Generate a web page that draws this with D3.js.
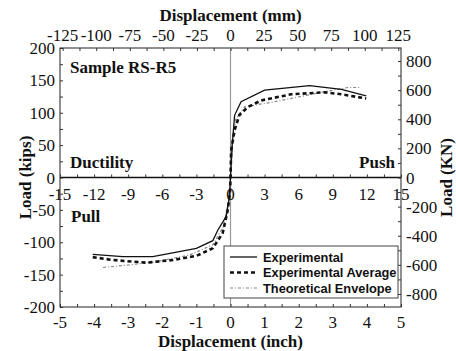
<!DOCTYPE html>
<html>
<head>
<meta charset="utf-8">
<script src="https://cdn.jsdelivr.net/npm/d3@7"></script>
<style>
  body { margin: 0; background: #fff; }
  svg { display: block; }
  .tick-lbl { font-family: "Liberation Serif", "Times New Roman", serif; font-size: 17px; fill: #111; }
  .title { font-family: "Liberation Serif", "Times New Roman", serif; font-size: 17px; font-weight: bold; fill: #111; }
  .legend-txt { font-family: "Liberation Sans", Arial, sans-serif; font-size: 12.8px; font-weight: bold; fill: #111; }
</style>
</head>
<body>
<div class="chart-div"></div>
<script>
const w = 456;
const h = 351;

// displacement (inch) / load (kips)
const expX  = [-4.04, -3.16, -2.28, -1.0, -0.52, -0.37, -0.13, -0.03, 0, 0.05, 0.12, 0.31, 1.0, 2.32, 3.25, 3.98];
const expY  = [-118.6, -122.3, -122.3, -109.3, -97.6, -81, -60.5, -29.6, 0, 50, 96, 117, 135, 142, 136, 126];
const avgX  = [-4.04, -3.45, -2.47, -1.69, -1.0, -0.52, -0.23, -0.08, -0.01, 0, 0.02, 0.12, 0.26, 0.51, 0.9, 1.78, 2.76, 3.25, 3.98];
const avgY  = [-123, -127.4, -131.6, -127.4, -121, -109.3, -86, -50, -19.5, 0, 42, 73, 96.5, 109, 119, 128.5, 131.6, 128.5, 122];
const theoX = [-3.74, -2.96, -2.18, -1.2, -0.52, -0.2, -0.05, 0, 0.05, 0.15, 0.41, 1.29, 2.76, 3.44, 3.83];
const theoY = [-139, -135, -130, -119.7, -104, -75, -35, 0, 55, 90, 109, 117, 132.5, 139, 139];

const inchTicks = [-5, -4, -3, -2, -1, 0, 1, 2, 3, 4, 5];
const mmTicks = [-125, -100, -75, -50, -25, 0, 25, 50, 75, 100, 125];
const kipTicks = [-200, -150, -100, -50, 0, 50, 100, 150, 200];
const knTicks = [-800, -600, -400, -200, 0, 200, 400, 600, 800];
const ductTicks = [-15, -12, -9, -6, -3, 0, 3, 6, 9, 12, 15];
const legendNames = ["Experimental", "Experimental Average", "Theoretical Envelope"];

const pLeft = 60, pRight = 401, pTop = 48, pBottom = 307;

const svg = d3.select(".chart-div").append("svg").attr("width", w).attr("height", h);

const x = d3.scaleLinear().domain([-5, 5]).range([pLeft, pRight]);
const y = d3.scaleLinear().domain([-200, 200]).range([pBottom, pTop]);
const xMm = d3.scaleLinear().domain([-5 * 25.4, 5 * 25.4]).range([pLeft, pRight]);
const yKn = d3.scaleLinear().domain([-200 * 4.448, 200 * 4.448]).range([pBottom, pTop]);
const xDuct = d3.scaleLinear().domain([-15, 15]).range([pLeft, pRight]);

// frame
svg.append("rect").attr("x", pLeft).attr("y", pTop).attr("width", pRight - pLeft).attr("height", pBottom - pTop)
  .attr("fill", "none").attr("stroke", "#222").attr("stroke-width", 1);

// zero lines
svg.append("line").attr("x1", x(0)).attr("x2", x(0)).attr("y1", pTop).attr("y2", pBottom)
  .attr("stroke", "#999").attr("stroke-width", 1.2);
svg.append("line").attr("x1", pLeft).attr("x2", pRight).attr("y1", y(0)).attr("y2", y(0))
  .attr("stroke", "#111").attr("stroke-width", 1.6);

// axes (ticks inward)
const bottomAx = svg.append("g").attr("transform", `translate(0,${pBottom})`)
  .call(d3.axisTop(x).tickValues(d3.range(-5, 5.01, 0.5)).tickSize(3).tickFormat(""));
const topAx = svg.append("g").attr("transform", `translate(0,${pTop})`)
  .call(d3.axisBottom(xMm).tickValues(d3.range(-125, 125.1, 12.5)).tickSize(3).tickFormat(""));
const leftAx = svg.append("g").attr("transform", `translate(${pLeft},0)`)
  .call(d3.axisRight(y).tickValues(d3.range(-200, 200.1, 25)).tickSize(3).tickFormat(""));
const rightAx = svg.append("g").attr("transform", `translate(${pRight},0)`)
  .call(d3.axisLeft(yKn).tickValues(d3.range(-800, 800.1, 100)).tickSize(3).tickFormat(""));
const ductAx = svg.append("g").attr("transform", `translate(0,${y(0)})`)
  .call(d3.axisTop(xDuct).tickValues(d3.range(-15, 15.1, 1.5)).tickSize(3).tickFormat(""));
[bottomAx, topAx, leftAx, rightAx, ductAx].forEach(g => {
  g.select(".domain").remove();
  g.selectAll("line").attr("stroke", "#333");
});

// tick labels
svg.selectAll(".lb").data(inchTicks).enter().append("text").attr("class", "tick-lbl")
  .attr("x", d => x(d)).attr("y", 328).attr("text-anchor", "middle").text(d => d);
svg.selectAll(".lt").data(mmTicks).enter().append("text").attr("class", "tick-lbl")
  .attr("x", d => xMm(d)).attr("y", 41).attr("text-anchor", "middle").text(d => d);
svg.selectAll(".ll").data(kipTicks).enter().append("text").attr("class", "tick-lbl")
  .attr("x", 55).attr("y", d => y(d) + 6).attr("text-anchor", "end").text(d => d);
svg.selectAll(".lr").data(knTicks).enter().append("text").attr("class", "tick-lbl")
  .attr("x", 406).attr("y", d => yKn(d) + 6).attr("text-anchor", "start").text(d => d);
svg.selectAll(".ld").data(ductTicks).enter().append("text").attr("class", "tick-lbl")
  .attr("x", d => xDuct(d)).attr("y", 200).attr("text-anchor", "middle").text(d => d);

// titles
svg.append("text").attr("class", "title").attr("x", x(0)).attr("y", 21).attr("text-anchor", "middle").text("Displacement (mm)");
svg.append("text").attr("class", "title").attr("x", x(0)).attr("y", 347).attr("text-anchor", "middle").text("Displacement (inch)");
svg.append("text").attr("class", "title").attr("transform", `translate(31,${y(0)}) rotate(-90)`).attr("text-anchor", "middle").text("Load (kips)");
svg.append("text").attr("class", "title").attr("transform", `translate(452,${y(0)}) rotate(-90)`).attr("text-anchor", "middle").text("Load (KN)");
svg.append("text").attr("class", "title").attr("x", 70).attr("y", 73).text("Sample RS-R5");
svg.append("text").attr("class", "title").attr("x", 70).attr("y", 168).text("Ductility");
svg.append("text").attr("class", "title").attr("x", 395).attr("y", 168).attr("text-anchor", "end").text("Push");
svg.append("text").attr("class", "title").attr("x", 71).attr("y", 222).text("Pull");

// curves
const line = d3.line().x(d => x(d[0])).y(d => y(d[1]));
const styles = [
  { stroke: "#111", width: 1.3, dash: null },
  { stroke: "#111", width: 2.6, dash: "4,3" },
  { stroke: "#888", width: 1.2, dash: "3,2,1,2" }
];
const series = [d3.zip(expX, expY), d3.zip(avgX, avgY), d3.zip(theoX, theoY)];
[2, 1, 0].forEach(i => {
  svg.append("path").datum(series[i]).attr("d", line).attr("fill", "none")
    .attr("stroke", styles[i].stroke).attr("stroke-width", styles[i].width)
    .attr("stroke-dasharray", styles[i].dash);
});

// legend
const lg = svg.append("g").attr("transform", "translate(224,246)");
lg.append("rect").attr("width", 174).attr("height", 52).attr("fill", "#fff").attr("stroke", "#444").attr("stroke-width", 1);
legendNames.forEach((name, i) => {
  const cy = 11 + i * 15.5;
  lg.append("line").attr("x1", 6).attr("x2", 33).attr("y1", cy).attr("y2", cy)
    .attr("stroke", styles[i].stroke).attr("stroke-width", styles[i].width).attr("stroke-dasharray", styles[i].dash);
  lg.append("text").attr("class", "legend-txt").attr("x", 39).attr("y", cy + 4.5).text(name);
});
</script>
</body>
</html>
